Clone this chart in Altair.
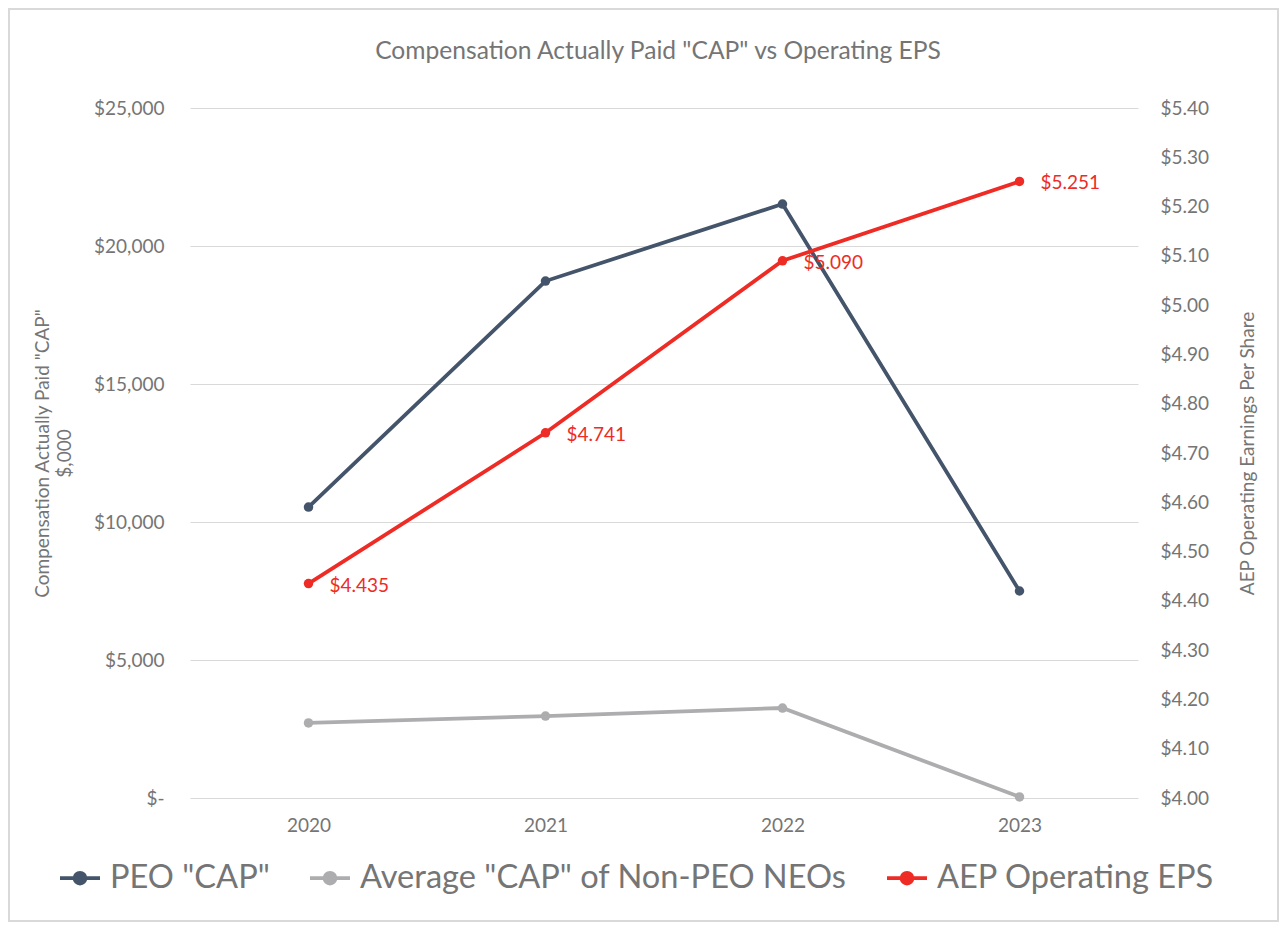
import altair as alt
import pandas as pd

years = ["2020", "2021", "2022", "2023"]
peo_cap = [10540, 18730, 21520, 7500]
non_peo_cap = [2720, 2970, 3260, 40]
eps = [4.435, 4.741, 5.090, 5.251]
eps_labels = ["$4.435", "$4.741", "$5.090", "$5.251"]

series_names = ['PEO "CAP"', 'Average "CAP" of Non-PEO NEOs', 'AEP Operating EPS']
series_colors = ["#44546A", "#ADADAF", "#EE2B24"]

cap_df = pd.DataFrame({
    "year": years * 2,
    "series": [series_names[0]] * 4 + [series_names[1]] * 4,
    "value": peo_cap + non_peo_cap,
})
eps_df = pd.DataFrame({
    "year": years,
    "series": [series_names[2]] * 4,
    "eps": eps,
    "label": eps_labels,
})

FONT = "Lato"
GRAY = "#757575"

color = alt.Color(
    "series:N",
    scale=alt.Scale(domain=series_names, range=series_colors),
    legend=alt.Legend(
        title=None,
        orient="none",
        legendX=-132,
        legendY=748,
        direction="horizontal",
        labelFontSize=32.6,
        labelFont=FONT,
        labelColor=GRAY,
        symbolType="M-1,0H1M-0.27,0a0.27,0.27 0 1,0 0.54,0a0.27,0.27 0 1,0 -0.54,0M-0.12,0a0.12,0.12 0 1,0 0.24,0a0.12,0.12 0 1,0 -0.24,0",
        symbolSize=1600,
        symbolStrokeWidth=3.8,
        labelOffset=8,
        columnPadding=32,
        labelLimit=800,
    ),
)

x = alt.X(
    "year:O",
    scale=alt.Scale(type="point", padding=0.5),
    axis=alt.Axis(title=None, labelAngle=0, ticks=False, domain=False,
                  labelFontSize=19, labelFont=FONT, labelColor=GRAY, labelPadding=18),
)

cap_lines = alt.Chart(cap_df).mark_line(
    strokeWidth=3.8, point=alt.OverlayMarkDef(size=90, filled=True, opacity=1)
).encode(
    x=x,
    y=alt.Y(
        "value:Q",
        scale=alt.Scale(domain=[0, 25000], nice=False),
        axis=alt.Axis(
            title=['Compensation Actually Paid "CAP"', "$,000"],
            values=[0, 5000, 10000, 15000, 20000, 25000],
            labelExpr="datum.value == 0 ? '$-\u00a0\u00a0\u00a0' : format(datum.value, '$,.0f')",
            ticks=False, domain=False,
            gridColor="#D9D9D9", gridWidth=1.2,
            labelFontSize=19, labelFont=FONT, labelColor=GRAY, labelPadding=26,
            titleFontSize=19, titleFont=FONT, titleColor=GRAY, titleFontWeight="normal",
            titlePadding=19, titleLineHeight=22,
        ),
    ),
    color=color,
)

eps_base = alt.Chart(eps_df).encode(
    x=x,
    y=alt.Y(
        "eps:Q",
        scale=alt.Scale(domain=[4.0, 5.4], nice=False, zero=False),
        axis=alt.Axis(
            title="AEP Operating Earnings Per Share",
            orient="right",
            values=[4.0, 4.1, 4.2, 4.3, 4.4, 4.5, 4.6, 4.7, 4.8, 4.9, 5.0, 5.1, 5.2, 5.3, 5.4],
            format="$.2f",
            grid=False, ticks=False, domain=False,
            labelFontSize=19, labelFont=FONT, labelColor=GRAY, labelPadding=22,
            titleFontSize=19, titleFont=FONT, titleColor=GRAY, titleFontWeight="normal",
            titleAngle=270, titlePadding=49,
        ),
    ),
)

eps_line = eps_base.mark_line(
    strokeWidth=3.8, point=alt.OverlayMarkDef(size=90, filled=True, opacity=1)
).encode(color=color)

eps_text = eps_base.mark_text(
    align="left", baseline="middle", dx=21, dy=2, fontSize=19, font=FONT, color="#EE2B24"
).encode(text="label:N")

border = alt.Chart(pd.DataFrame({"a": [0]})).mark_rect(
    fill="white", fillOpacity=0, stroke="#D9D9D9", strokeWidth=2
).encode(
    x=alt.value(-181), x2=alt.value(1088), y=alt.value(-99), y2=alt.value(813)
)

chart = alt.layer(
    border, cap_lines, alt.layer(eps_line, eps_text)
).resolve_scale(y="independent").properties(
    width=948,
    height=690,
    padding={"left": 182, "top": 100, "right": 141, "bottom": 124},
    autosize=alt.AutoSizeParams(type="none"),
    title=alt.TitleParams(
        'Compensation Actually Paid "CAP" vs Operating EPS',
        fontSize=24.6, font=FONT, color=GRAY, fontWeight="normal",
        anchor="middle", offset=-57, dx=-6,
    ),
).configure(background="white", view=alt.ViewConfig(stroke=None))

chart.save("out.html", embed_options={"renderer": "svg", "actions": False})
